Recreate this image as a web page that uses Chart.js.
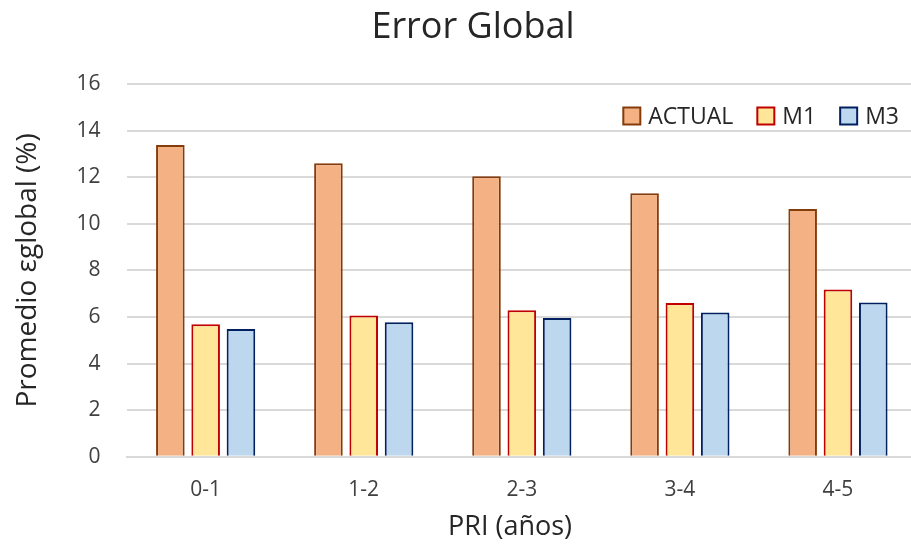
<!DOCTYPE html>
<html>
<head>
<meta charset="utf-8">
<script src="https://cdn.jsdelivr.net/npm/chart.js@4"></script>
<style>
  body { margin: 0; overflow: hidden; background: #fff; }
  #wrap { width: 917px; height: 547px; }
</style>
</head>
<body>
<div id="wrap"><canvas id="chart"></canvas></div>
<script>
const categories = ["0-1", "1-2", "2-3", "3-4", "4-5"];
const actual = [13.38, 12.6, 12.04, 11.31, 10.64];
const m1 = [5.69, 6.06, 6.29, 6.6, 7.18];
const m3 = [5.49, 5.78, 5.96, 6.19, 6.62];
const yTicks = [0, 2, 4, 6, 8, 10, 12, 14, 16];
const chartTitle = "Error Global";
const xTitle = "PRI (años)";

const font = "'Open Sans', 'DejaVu Sans', sans-serif";

// title, x title and legend drawn by hand so they sit where Excel put them
const excelDecor = {
  id: "excelDecor",
  afterDraw(chart) {
    const ctx = chart.ctx;
    ctx.save();
    ctx.textBaseline = "middle";
    ctx.textAlign = "center";
    ctx.fillStyle = "#262626";
    ctx.font = "36px " + font;
    ctx.fillText(chartTitle, 473, 28);
    ctx.font = "27px " + font;
    ctx.fillText(xTitle, 510, 527);

    const box = 17, gapText = 8, gapItem = 24;
    const rightEdge = 899, midY = 116;
    ctx.font = "23px " + font;
    ctx.textAlign = "left";
    let x = rightEdge;
    chart.data.datasets.slice().reverse().forEach(ds => {
      const w = ctx.measureText(ds.label).width;
      x -= w;
      ctx.fillStyle = "#262626";
      ctx.fillText(ds.label, x, midY + 1);
      x -= gapText + box;
      ctx.fillStyle = ds.backgroundColor;
      ctx.fillRect(x, midY - box / 2, box, box);
      ctx.strokeStyle = ds.borderColor;
      ctx.lineWidth = 2;
      ctx.strokeRect(x, midY - box / 2, box, box);
      x -= gapItem;
    });
    ctx.restore();
  }
};

new Chart(document.getElementById("chart"), {
  type: "bar",
  data: {
    labels: categories,
    datasets: [
      { label: "ACTUAL", data: actual, backgroundColor: "#F4B183", borderColor: "#843C0C", borderWidth: 2 },
      { label: "M1", data: m1, backgroundColor: "#FFE699", borderColor: "#C00000", borderWidth: 2 },
      { label: "M3", data: m3, backgroundColor: "#BDD7EE", borderColor: "#002060", borderWidth: 2 }
    ]
  },
  options: {
    responsive: true,
    maintainAspectRatio: false,
    animation: false,
    categoryPercentage: 0.67,
    barPercentage: 0.81,
    layout: { padding: { top: 84, bottom: 23 } },
    plugins: {
      legend: { display: false },
      tooltip: { enabled: false }
    },
    scales: {
      x: {
        grid: { display: false, drawTicks: false },
        border: { color: "#D9D9D9", width: 2 },
        ticks: { color: "#404040", font: { family: font, size: 21 }, padding: 21 }
      },
      y: {
        min: 0,
        max: 16,
        afterBuildTicks: axis => { axis.ticks = yTicks.map(v => ({ value: v })); },
        grid: { color: "#D9D9D9", lineWidth: 2, drawTicks: false },
        border: { display: false },
        ticks: { color: "#404040", font: { family: font, size: 21 }, padding: 26 },
        title: {
          display: true,
          text: "Promedio εglobal (%)",
          color: "#262626",
          font: { family: font, size: 28 },
          padding: { top: 11, bottom: 6 }
        }
      }
    }
  },
  plugins: [excelDecor]
});
</script>
</body>
</html>
